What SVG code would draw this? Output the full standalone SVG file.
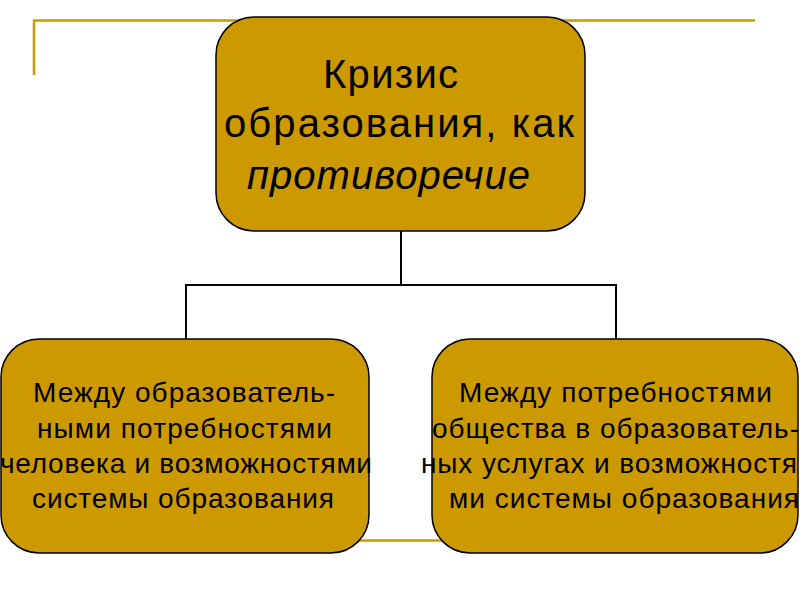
<svg xmlns="http://www.w3.org/2000/svg" width="800" height="600" viewBox="0 0 800 600">
<style>
.deco{stroke:#CC9900;stroke-width:2.5;fill:none}
.node{fill:#CC9900;stroke:#000;stroke-width:1.5}
.conn{stroke:#000;stroke-width:2;fill:none}
.t{font-family:"Liberation Sans",Arial,sans-serif;fill:#000}
.big{font-size:40px}
.small{font-size:28px}
</style>
<rect width="800" height="600" fill="#fff"/>
<g id="decoration">
<polyline class="deco" points="34,75 34,20.5 755,20.5"/>
<line class="deco" x1="300" y1="540.5" x2="500" y2="540.5"/>
</g>
<g id="connectors">
<polyline class="conn" points="401,231 401,285"/>
<polyline class="conn" points="186,339 186,285 616,285 616,339"/>
</g>
<g id="node-top">
<rect class="node" x="216" y="17" width="369" height="214" rx="38" ry="38"/>
<text class="t big" x="323" y="88" textLength="135" lengthAdjust="spacing">Кризис</text>
<text class="t big" x="224" y="137" textLength="350" lengthAdjust="spacing">образования, как</text>
<text class="t big" x="247" y="189" font-style="italic" textLength="283" lengthAdjust="spacing">противоречие</text>
</g>
<g id="node-left">
<rect class="node" x="1" y="339" width="368" height="214" rx="38" ry="38"/>
<text class="t small" x="33" y="402" textLength="302" lengthAdjust="spacing">Между образователь-</text>
<text class="t small" x="37" y="438" textLength="295" lengthAdjust="spacing">ными потребностями</text>
<text class="t small" x="0" y="473" textLength="372" lengthAdjust="spacing">человека и возможностями</text>
<text class="t small" x="32" y="508" textLength="302" lengthAdjust="spacing">системы образования</text>
</g>
<g id="node-right">
<rect class="node" x="432" y="339" width="366" height="214" rx="38" ry="38"/>
<text class="t small" x="459" y="402" textLength="313" lengthAdjust="spacing">Между потребностями</text>
<text class="t small" x="432" y="438" textLength="367" lengthAdjust="spacing">общества в образователь-</text>
<text class="t small" x="421" y="473" textLength="376" lengthAdjust="spacing">ных услугах и возможностя</text>
<text class="t small" x="449" y="508" textLength="350" lengthAdjust="spacing">ми системы образования</text>
</g>
</svg>
